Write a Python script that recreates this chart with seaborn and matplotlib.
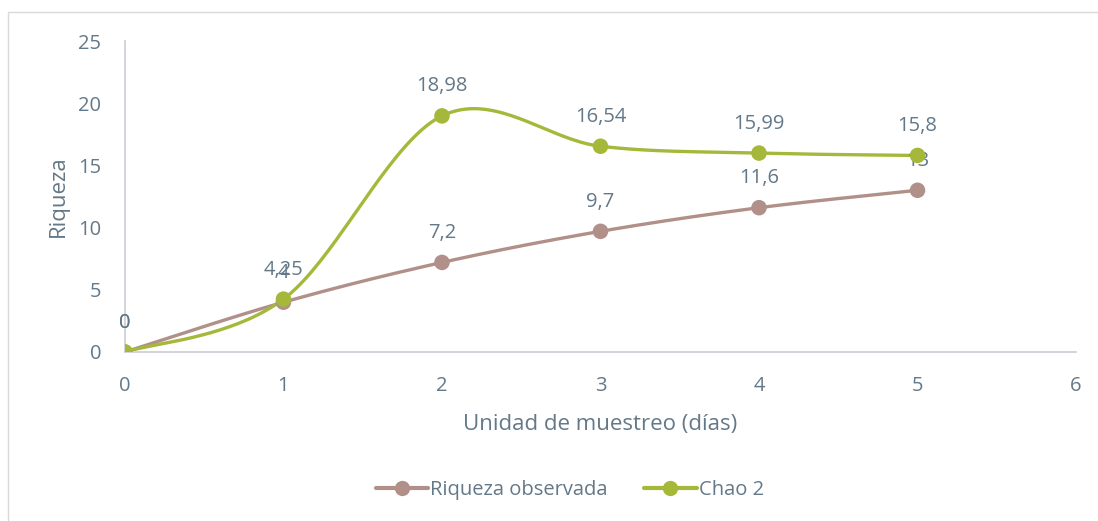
import numpy as np
import pandas as pd
import matplotlib
matplotlib.use("Agg")
import matplotlib.pyplot as plt
import seaborn as sns
from matplotlib.lines import Line2D
from matplotlib.patches import Rectangle

# data
dias = [0, 1, 2, 3, 4, 5]
riqueza_obs = [0, 4, 7.2, 9.7, 11.6, 13]
chao2 = [0, 4.25, 18.98, 16.54, 15.99, 15.8]
obs_labels = ["0", "4", "7,2", "9,7", "11,6", "13"]
chao_labels = ["0", "4,25", "18,98", "16,54", "15,99", "15,8"]

c_obs = "#B09088"
c_chao = "#A5B83A"
c_txt = "#637888"
c_axis = "#C9CED3"


def smooth(x, y, n=40):
    # catmull-rom style smoothing like the spreadsheet "smoothed line"
    x = np.asarray(x, float)
    y = np.asarray(y, float)
    px = np.concatenate([[x[0]], x, [x[-1]]])
    py = np.concatenate([[y[0]], y, [y[-1]]])
    xs, ys = [], []
    for i in range(1, len(px) - 2):
        p0, p1, p2, p3 = [np.array([px[j], py[j]]) for j in range(i - 1, i + 3)]
        c1 = p1 + (p2 - p0) / 6
        c2 = p2 - (p3 - p1) / 6
        t = np.linspace(0, 1, n)[:, None]
        b = ((1 - t) ** 3) * p1 + 3 * ((1 - t) ** 2) * t * c1 + 3 * (1 - t) * t ** 2 * c2 + t ** 3 * p2
        xs.extend(b[:, 0])
        ys.extend(b[:, 1])
    return np.array(xs), np.array(ys)


sns.set_style("white")
plt.rcParams["font.family"] = ["Open Sans", "DejaVu Sans"]

fig = plt.figure(figsize=(10.98, 5.21), dpi=100)
ax = fig.add_axes([0.1138, 0.3244, 0.8662, 0.5969])

# outer chart frame
fig.patches.append(Rectangle((0.007, -0.01), 0.995, 0.987, transform=fig.transFigure,
                             fill=False, edgecolor="#D9D9D9", linewidth=1))

sx, sy = smooth(dias, riqueza_obs)
sns.lineplot(x=sx, y=sy, ax=ax, color=c_obs, linewidth=2.4, sort=False, estimator=None)
sx, sy = smooth(dias, chao2)
sns.lineplot(x=sx, y=sy, ax=ax, color=c_chao, linewidth=2.4, sort=False, estimator=None)

sns.scatterplot(x=dias, y=riqueza_obs, ax=ax, color=c_obs, s=125, edgecolor="none", zorder=3)
sns.scatterplot(x=dias, y=chao2, ax=ax, color=c_chao, s=125, edgecolor="none", zorder=4)

for x, y, t in zip(dias, riqueza_obs, obs_labels):
    ax.annotate(t, (x, y), xytext=(0, 14), textcoords="offset points",
                ha="center", va="bottom", fontsize=14.5, color=c_txt)
for x, y, t in zip(dias, chao2, chao_labels):
    ax.annotate(t, (x, y), xytext=(0, 14), textcoords="offset points",
                ha="center", va="bottom", fontsize=14.5, color=c_txt)

ax.set_xlim(0, 6)
ax.set_ylim(0, 25)
ax.set_xticks(range(0, 7))
ax.set_yticks(range(0, 26, 5))
ax.tick_params(axis="both", colors=c_txt, labelsize=14.5, length=0)
ax.tick_params(axis="x", pad=17)
ax.tick_params(axis="y", pad=17)
for s in ["top", "right"]:
    ax.spines[s].set_visible(False)
for s in ["left", "bottom"]:
    ax.spines[s].set_color(c_axis)
    ax.spines[s].set_linewidth(1.2)
ax.set_xlabel("Unidad de muestreo (días)", fontsize=16, color=c_txt, labelpad=13)
ax.set_ylabel("Riqueza", fontsize=16, color=c_txt, labelpad=7)

handles = [
    Line2D([0], [0], color=c_obs, lw=3, marker="o", markersize=11, markeredgewidth=0),
    Line2D([0], [0], color=c_chao, lw=3, marker="o", markersize=11, markeredgewidth=0),
]
leg = fig.legend(handles, ["Riqueza observada", "Chao 2"], loc="center",
                 bbox_to_anchor=(0.519, 0.06), ncol=2, frameon=False, fontsize=14.5,
                 handlelength=2.6, handletextpad=0.1, columnspacing=1.8)
for t in leg.get_texts():
    t.set_color(c_txt)

fig.savefig("out.png", dpi=100)
